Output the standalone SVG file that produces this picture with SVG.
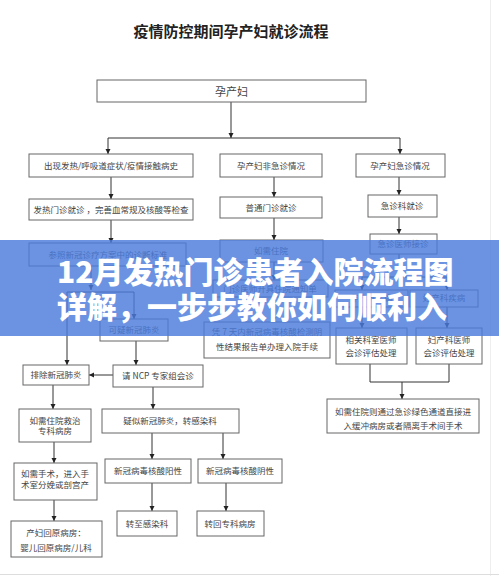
<svg xmlns="http://www.w3.org/2000/svg" width="499" height="576" viewBox="0 0 499 576">
<defs>
<style>
.box{fill:#fff;stroke:#666;stroke-width:1}
.t{font-family:"Noto Sans CJK SC","Noto Sans",sans-serif;font-size:8.5px;fill:#444;text-anchor:middle}
.c{stroke:#333;stroke-width:1;fill:none}
.a{stroke:#333;stroke-width:1;fill:none;marker-end:url(#ah)}
.bt{font-family:"Noto Sans CJK SC","Noto Sans",sans-serif;font-size:30px;font-weight:900;fill:#fff}
</style>
<marker id="ah" markerWidth="6" markerHeight="6" refX="5" refY="3" orient="auto" markerUnits="userSpaceOnUse">
<path d="M0,0.5 L5,3 L0,5.5 z" fill="#222"/>
</marker>
</defs>
<rect width="499" height="576" fill="#fff"/>
<line x1="490.5" y1="0" x2="490.5" y2="576" stroke="#eee"/>
<line x1="0" y1="574.5" x2="499" y2="574.5" stroke="#ddd"/>
<text x="231" y="37" style="font-family:'Noto Sans CJK SC',sans-serif;font-size:15px;font-weight:700;fill:#222;text-anchor:middle">疫情防控期间孕产妇就诊流程</text>

<g id="connectors">
<path class="a" d="M231,102 V138"/>
<path class="c" d="M108,138 H400"/>
<path class="a" d="M108,138 V154"/>
<path class="a" d="M400,138 V154"/>
<path class="a" d="M111,177 V199"/>
<path class="a" d="M111,220 V243"/>
<path class="a" d="M274,177 V197"/>
<path class="a" d="M274,218 V240"/>
<path class="a" d="M274,262 V280"/>
<path class="a" d="M274,297 V322"/>
<path class="a" d="M399,177 V195"/>
<path class="a" d="M399,217 V234"/>
<path class="c" d="M399,254 V277 M362,277 H447"/>
<path class="a" d="M362,277 V290"/>
<path class="a" d="M447,277 V290"/>
<path class="a" d="M362,307 V328"/>
<path class="a" d="M447,307 V328"/>
<path class="c" d="M370,364 V382 H449 V364"/>
<path class="a" d="M402,382 V399"/>
<path class="a" d="M91,266 V290"/>
<path class="c" d="M67,292 H134"/>
<path class="a" d="M67,292 V365"/>
<path class="a" d="M134,292 V319"/>
<path class="a" d="M136,341 V365"/>
<path class="a" d="M113,375 H89"/>
<path class="a" d="M53,385 V409"/>
<path class="a" d="M153,387 V409"/>
<path class="a" d="M152,433 V459"/>
<path class="a" d="M223,433 V459"/>
<path class="a" d="M54,442 V463"/>
<path class="a" d="M152,483 V511"/>
<path class="a" d="M226,483 V511"/>
<path class="a" d="M54,500 V521"/>
</g>

<g id="n0"><rect class="box" x="97" y="80" width="269" height="22"/><text class="t" x="231.5" y="95.5" style="font-size:11px">孕产妇</text></g>
<g id="n1"><rect class="box" x="29" y="154" width="164" height="23"/><text class="t" x="111" y="169">出现发热/呼吸道症状/疫情接触病史</text></g>
<g id="n2"><rect class="box" x="220" y="154" width="102" height="23"/><text class="t" x="271" y="169">孕产妇非急诊情况</text></g>
<g id="n3"><rect class="box" x="356" y="154" width="89" height="23"/><text class="t" x="400" y="169">孕产妇急诊情况</text></g>
<g id="n4"><rect class="box" x="29" y="199" width="164" height="21"/><text class="t" x="111" y="213">发热门诊就诊 ，完善血常规及核酸等检查</text></g>
<g id="n5"><rect class="box" x="220" y="197" width="102" height="21"/><text class="t" x="271" y="211">普通门诊就诊</text></g>
<g id="n6"><rect class="box" x="368" y="195" width="69" height="22"/><text class="t" x="402" y="209">急诊科就诊</text></g>
<g id="n7"><rect class="box" x="29" y="243" width="157" height="23"/><text class="t" x="108" y="258">参照新冠诊疗方案中的诊断标准</text></g>
<g id="n8"><rect class="box" x="220" y="240" width="103" height="22"/><text class="t" x="271" y="254">如需住院</text></g>
<g id="n9"><rect class="box" x="370" y="234" width="67" height="20"/><text class="t" x="403" y="247">急诊医师接诊</text></g>
<g id="n10"><rect class="box" x="213" y="280" width="115" height="17"/><text class="t" x="270" y="292">门诊医师开具住院通知单</text></g>
<g id="n11"><rect class="box" x="100" y="319" width="68" height="22"/><text class="t" x="134" y="333">可疑新冠肺炎</text></g>
<g id="n12"><rect class="box" x="335" y="290" width="73" height="17"/><text class="t" x="371" y="301">非产科疾病</text></g>
<g id="n13"><rect class="box" x="410" y="290" width="68" height="17"/><text class="t" x="444" y="301">妇产科疾病</text></g>
<g id="n14"><rect class="box" x="204" y="322" width="126" height="36"/><text class="t" x="267" y="335">凭 7 天内新冠病毒核酸检测阴</text><text class="t" x="267" y="350">性结果报告单办理入院手续</text></g>
<g id="n15"><rect class="box" x="336" y="328" width="71" height="36"/><text class="t" x="371" y="343">相关科室医师</text><text class="t" x="371" y="356">会诊评估处理</text></g>
<g id="n16"><rect class="box" x="416" y="328" width="66" height="36"/><text class="t" x="449" y="343">妇产科医师</text><text class="t" x="449" y="356">会诊评估处理</text></g>
<g id="n17"><rect class="box" x="23" y="365" width="66" height="20"/><text class="t" x="56" y="378">排除新冠肺炎</text></g>
<g id="n18"><rect class="box" x="113" y="365" width="90" height="22"/><text class="t" x="158" y="379">请 NCP 专家组会诊</text></g>
<g id="n19"><rect class="box" x="19" y="409" width="72" height="33"/><text class="t" x="55" y="424">如需住院救治</text><text class="t" x="55" y="434">专科病房</text></g>
<g id="n20"><rect class="box" x="102" y="409" width="137" height="24"/><text class="t" x="170" y="424">疑似新冠肺炎，转感染科</text></g>
<g id="n21"><rect class="box" x="14" y="463" width="83" height="37"/><text class="t" x="55" y="477">如需手术，进入手</text><text class="t" x="55" y="488">术室分娩或剖宫产</text></g>
<g id="n22"><rect class="box" x="105" y="459" width="86" height="24"/><text class="t" x="148" y="474">新冠病毒核酸阳性</text></g>
<g id="n23"><rect class="box" x="198" y="459" width="84" height="24"/><text class="t" x="240" y="474">新冠病毒核酸阴性</text></g>
<g id="n24"><rect class="box" x="117" y="511" width="60" height="25"/><text class="t" x="147" y="527">转至感染科</text></g>
<g id="n25"><rect class="box" x="197" y="511" width="67" height="25"/><text class="t" x="230" y="527">转回专科病房</text></g>
<g id="n26"><rect class="box" x="11" y="521" width="91" height="36"/><text class="t" x="56" y="536">产妇回原病房：</text><text class="t" x="56" y="551">婴儿回原病房/儿科</text></g>
<g id="n27"><rect class="box" x="327" y="399" width="152" height="34"/><text class="t" x="403" y="415">如需住院则通过急诊绿色通道直接进</text><text class="t" x="403" y="429">入缓冲病房或者隔离手术间手术</text></g>

<g id="banner">
<rect x="0" y="240" width="499" height="96" fill="#4a7bdc" fill-opacity="0.82"/>
<text class="bt" x="57" y="283">12月发热门诊患者入院流程图</text>
<text class="bt" x="57" y="318">详解，一步步教你如何顺利入</text>
</g>
</svg>
